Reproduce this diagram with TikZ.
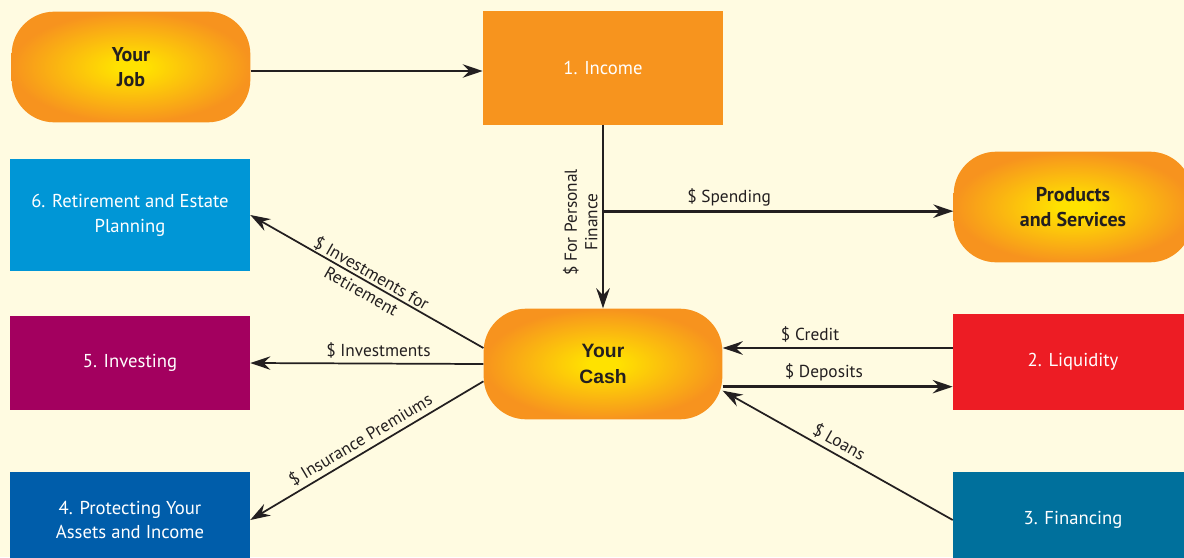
\documentclass[tikz,border=0pt]{standalone}
\usepackage{fontspec}
\setmainfont{PT Sans}
\newfontfamily\cashfont{Liberation Sans}
\usetikzlibrary{arrows.meta,positioning,calc}

\definecolor{paper}{RGB}{255,251,225}
\definecolor{ink}{RGB}{35,31,32}
\definecolor{pillcore}{RGB}{255,226,0}
\definecolor{pillrim}{RGB}{247,147,30}
\definecolor{incomeorange}{RGB}{247,148,30}
\definecolor{retireblue}{RGB}{0,150,214}
\definecolor{investplum}{RGB}{163,0,95}
\definecolor{protectblue}{RGB}{0,93,170}
\definecolor{liquidred}{RGB}{237,28,36}
\definecolor{financeteal}{RGB}{0,112,156}

\pgfdeclareradialshading{pillglow}{\pgfpoint{0bp}{0bp}}{color(0bp)=(pillcore); color(3bp)=(pillcore); color(25bp)=(pillrim); color(50bp)=(pillrim)}

\tikzset{
  pill/.style={rounded corners=32pt, shading=pillglow, minimum width=179pt, minimum height=83pt,
    align=center, text=ink, font=\fontsize{15}{18.5}\selectfont\bfseries},
  box/.style={minimum width=180pt, inner sep=0pt, text=white, align=center,
    font=\fontsize{14}{18.5}\selectfont},
  flow/.style={draw=ink, line width=1.3pt, -{Stealth[length=15pt,width=10pt,inset=5pt]}},
  bigflow/.style={flow, line width=2pt},
  tag/.style={text=ink, inner sep=3pt, font=\fontsize{13}{15.5}\selectfont}
}

\begin{document}
\begin{tikzpicture}[x=0.75pt, y=-0.75pt]
\fill[paper] (0,0) rectangle (1184,557);
\useasboundingbox (0,0) rectangle (1184,557);

% top row
\node[pill] (job) at (131,67) {Your\\Job};
\node[box, fill=incomeorange, minimum height=85pt] (income) at (603,68) {1. Income};
\node[pill] (products) at (1073,207) {Products\\and Services};

% left column
\node[box, fill=retireblue, minimum height=84pt] (retire) at (130,215) {6. Retirement and Estate\\Planning};
\node[box, fill=investplum, minimum height=70pt] (invest) at (130,363) {5. Investing};
\node[box, fill=protectblue, minimum height=72pt] (protect) at (130,520) {4. Protecting Your\\Assets and Income};

% centre and right column
\node[pill, font=\fontsize{14.5}{19}\selectfont\cashfont\bfseries] (cash) at (603,364) {Your\\Cash};
\node[box, fill=liquidred, minimum height=72pt] (liquid) at (1073,362) {2. Liquidity};
\node[box, fill=financeteal, minimum height=72pt] (finance) at (1073,520) {3. Financing};

% money flows
\draw[bigflow] ([yshift=-3pt]job.east) -- ([yshift=-3pt]job.east -| income.west);
\draw[bigflow] (income.south) -- (cash.north)
  node[tag, pos=0.53, rotate=90, anchor=south, align=center] {\$ For Personal\\Finance};
\coordinate (split) at ($(income.south)!0.47!(cash.north)$);
\draw[bigflow] (split) -- (split -| products.west) node[tag, pos=0.36, above] {\$ Spending};

\draw[flow] ([yshift=12pt]cash.west) -- (retire.east)
  node[tag, midway, sloped, align=center, inner sep=0pt] {\$ Investments for\\Retirement};
\draw[flow] (cash.west) -- (invest.east) node[tag, pos=0.45, above] {\$ Investments};
\draw[flow] ([yshift=-13pt]cash.west) -- (protect.east)
  node[tag, pos=0.5, sloped, above] {\$ Insurance Premiums};

\draw[bigflow] ([yshift=10.5pt]liquid.west) -- ([yshift=10.5pt]liquid.west -| cash.east)
  node[tag, pos=0.62, above] {\$ Credit};
\draw[bigflow] ([yshift=-17pt]cash.east) -- ([yshift=-17pt]cash.east -| liquid.west)
  node[tag, pos=0.44, above] {\$ Deposits};
\draw[flow] (finance.west) -- ([yshift=-20pt]cash.east)
  node[tag, pos=0.52, sloped, above] {\$ Loans};
\end{tikzpicture}
\end{document}
